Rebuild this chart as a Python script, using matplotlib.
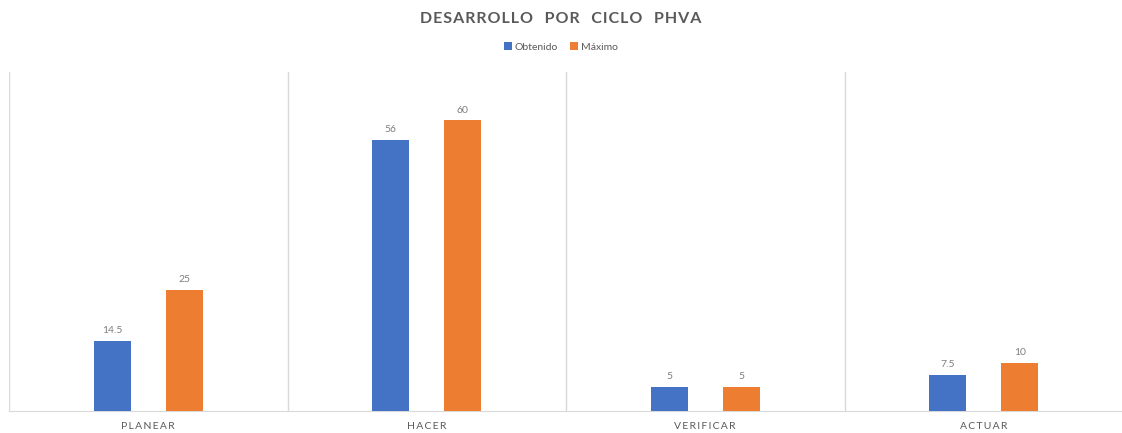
import matplotlib.pyplot as plt
import numpy as np

categorias = ['PLANEAR', 'HACER', 'VERIFICAR', 'ACTUAR']
obtenido = [14.5, 56, 5, 7.5]
maximo = [25, 60, 5, 10]
etiquetas_obt = ['14.5', '56', '5', '7.5']
etiquetas_max = ['25', '60', '5', '10']

plt.rcParams['font.family'] = ['Lato', 'DejaVu Sans']

fig = plt.figure(figsize=(11.22, 4.33), dpi=100)
ax = fig.add_axes([9 / 1122, 22 / 433, 1114 / 1122, 339 / 433])

x = np.arange(len(categorias))
ancho = 0.133
sep = 0.129

b1 = ax.bar(x - sep, obtenido, ancho, color='#4472C4', label='Obtenido', zorder=3)
b2 = ax.bar(x + sep, maximo, ancho, color='#ED7D31', label='Máximo', zorder=3)

for rect, txt in zip(b1, etiquetas_obt):
    ax.annotate(txt, (rect.get_x() + rect.get_width() / 2, rect.get_height()),
                xytext=(0, 4), textcoords='offset points', ha='center', va='bottom',
                fontsize=7.5, color='#7F7F7F')
for rect, txt in zip(b2, etiquetas_max):
    ax.annotate(txt, (rect.get_x() + rect.get_width() / 2, rect.get_height()),
                xytext=(0, 4), textcoords='offset points', ha='center', va='bottom',
                fontsize=7.5, color='#7F7F7F')

# separadores verticales entre categorias
for b in np.arange(-0.5, len(categorias), 1.0):
    ax.axvline(b, color='#D9D9D9', linewidth=1, zorder=1)

ax.set_xlim(-0.5, len(categorias) - 0.5)
ax.set_ylim(0, 70)
ax.set_yticks([])
ax.set_xticks(x)
ax.set_xticklabels(['\u2009'.join(c) for c in categorias], fontsize=7.5, color='#595959')
ax.tick_params(axis='x', length=0, pad=8)

for s in ['top', 'right', 'left']:
    ax.spines[s].set_visible(False)
ax.spines['bottom'].set_color('#D9D9D9')

titulo = '   '.join('\u200a'.join(p) for p in 'DESARROLLO POR CICLO PHVA'.split())
fig.text(0.5, 1 - 19 / 433, titulo,
         ha='center', va='center', fontsize=11.5, fontweight='bold', color='#595959')

fig.legend(loc='center', bbox_to_anchor=(0.5, 1 - 47 / 433), ncol=2, frameon=False,
           fontsize=7.5, handlelength=0.7, handleheight=0.7, handletextpad=0.3,
           columnspacing=1.2, labelcolor='#595959')

fig.savefig('out.png', dpi=100, facecolor='white')
